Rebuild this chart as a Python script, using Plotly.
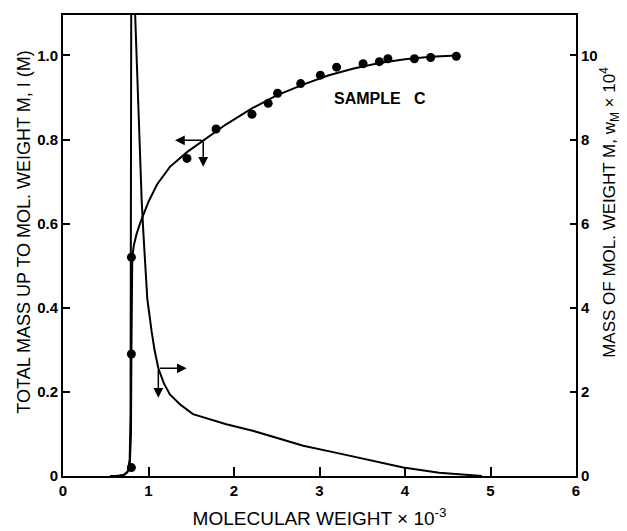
import plotly.graph_objects as go

# Cumulative mass I(M) (left axis) - smooth curve
cum_x = [0.55, 0.62, 0.70, 0.75, 0.78, 0.795, 0.80, 0.805, 0.81, 0.83, 0.86, 0.90, 0.95, 1.0, 1.1, 1.25, 1.45,
         1.65, 1.9, 2.2, 2.5, 2.8, 3.1, 3.4, 3.7, 4.0, 4.3, 4.6]
cum_y = [0.0, 0.0, 0.002, 0.008, 0.02, 0.1, 0.29, 0.45, 0.52, 0.55, 0.575, 0.60, 0.628, 0.652, 0.693, 0.735, 0.770,
         0.798, 0.835, 0.873, 0.905, 0.93, 0.952, 0.969, 0.982, 0.991, 0.997, 1.0]

# Measured points of I(M)
pts_x = [0.80, 0.80, 0.80, 1.45, 1.79, 2.21, 2.40, 2.51, 2.78, 3.01, 3.20, 3.51, 3.70, 3.80, 4.11, 4.30, 4.60]
pts_y = [0.02, 0.29, 0.52, 0.755, 0.825, 0.86, 0.886, 0.91, 0.933, 0.953, 0.972, 0.98, 0.985, 0.992,
         0.992, 0.995, 0.998]

# Mass distribution w_M x 10^4 (right axis)
wm_x = [0.55, 0.65, 0.72, 0.76, 0.78, 0.79, 0.80, 0.842, 0.92, 0.94, 0.986, 1.037, 1.07, 1.115, 1.18, 1.25, 1.37,
        1.52, 1.91, 2.23, 2.81, 3.2, 3.59, 3.98, 4.4, 4.76, 4.9]
wm_y = [0.0, 0.0, 0.03, 0.12, 0.4, 1.5, 13.5, 10.96, 6.56, 5.78, 4.21, 3.43, 3.0, 2.56, 2.2, 1.94, 1.70,
        1.47, 1.23, 1.07, 0.72, 0.55, 0.37, 0.20, 0.08, 0.02, 0.0]

x_ticks = [0, 1, 2, 3, 4, 5, 6]
y_ticks = [0, 0.2, 0.4, 0.6, 0.8, 1.0]
y_tick_text = ["0", "0.2", "0.4", "0.6", "0.8", "1.0"]
y2_ticks = [0, 2, 4, 6, 8, 10]

# arrow indicators: (head_x, head_y, tail_x, tail_y)
cum_arrows = [(1.31, 0.798, 1.64, 0.798), (1.64, 0.735, 1.64, 0.798)]
wm_arrows = [(1.447, 2.56, 1.115, 2.56), (1.115, 1.86, 1.115, 2.56)]

FONT = "Liberation Sans"

# page offset (body margin) is 8px; plot area in screen px: x 63..576, y 13..479
OFF = 8
W, H = 627 - OFF, 531 - OFF
L, T = 63 - OFF, 13 - OFF
PW, PH = 576 - 63, 479 - 13
R, B = W - L - PW, H - T - PH


def px_to_paper_x(sx):
    return (sx - 63) / PW


def py_to_paper_y(sy):
    return (479 - sy) / PH


fig = go.Figure()
fig.add_trace(go.Scatter(x=cum_x, y=cum_y, mode="lines", line=dict(color="black", width=2),
                         showlegend=False, hoverinfo="skip"))
fig.add_trace(go.Scatter(x=pts_x, y=pts_y, mode="markers", marker=dict(color="black", size=9),
                         showlegend=False, cliponaxis=False))
fig.add_trace(go.Scatter(x=wm_x, y=wm_y, mode="lines", line=dict(color="black", width=2),
                         yaxis="y2", showlegend=False, hoverinfo="skip"))

annotations = []
for hx, hy, tx, ty in cum_arrows:
    annotations.append(dict(x=hx, y=hy, ax=tx, ay=ty, xref="x", yref="y", axref="x", ayref="y",
                            text="", showarrow=True, arrowhead=2, arrowsize=1.3, arrowwidth=1.5,
                            arrowcolor="black"))
for hx, hy, tx, ty in wm_arrows:
    annotations.append(dict(x=hx, y=hy, ax=tx, ay=ty, xref="x", yref="y2", axref="x", ayref="y2",
                            text="", showarrow=True, arrowhead=2, arrowsize=1.3, arrowwidth=1.5,
                            arrowcolor="black"))
annotations.append(dict(x=3.71, y=0.898, xref="x", yref="y", text="SAMPLE&nbsp;&nbsp;&nbsp;C", showarrow=False,
                        font=dict(family=FONT, size=16, color="black", weight="bold")))
annotations.append(dict(x=px_to_paper_x(24), y=py_to_paper_y(233), xref="paper", yref="paper",
                        xanchor="center", yanchor="middle",
                        text="TOTAL MASS UP TO MOL. WEIGHT M, I (M)", textangle=-90, showarrow=False,
                        font=dict(family=FONT, size=18, color="black")))
annotations.append(dict(x=px_to_paper_x(610), y=py_to_paper_y(213), xref="paper", yref="paper",
                        xanchor="center", yanchor="middle",
                        text="MASS OF MOL. WEIGHT M, w<sub>M</sub> × 10<sup>4</sup>", textangle=-90,
                        showarrow=False, font=dict(family=FONT, size=17, color="black")))

tickfont = dict(family=FONT, size=15, color="black", weight="bold")

fig.update_layout(
    width=W, height=H,
    margin=dict(l=L, r=R, t=T, b=B, pad=0),
    paper_bgcolor="white", plot_bgcolor="white",
    font=dict(family=FONT, color="black"),
    annotations=annotations,
    xaxis=dict(range=[0, 6], tickvals=x_ticks, ticks="inside", ticklen=9, tickwidth=1.5,
               tickcolor="black", showline=True, linecolor="black", linewidth=2, mirror=True,
               showgrid=False, zeroline=False, tickfont=tickfont,
               title=dict(text="MOLECULAR WEIGHT × 10<sup>-3</sup>", standoff=14,
                          font=dict(family=FONT, size=19, color="black"))),
    yaxis=dict(range=[0, 1.096], tickvals=y_ticks, ticktext=y_tick_text, ticks="inside", ticklen=7,
               tickwidth=1.5, tickcolor="black", showline=True, linecolor="black", linewidth=2,
               showgrid=False, zeroline=False, tickfont=tickfont),
    yaxis2=dict(range=[0, 10.96], tickvals=y2_ticks, ticks="inside", ticklen=6, tickwidth=1.5,
                tickcolor="black", showline=True, linecolor="black", linewidth=2, overlaying="y",
                side="right", showgrid=False, zeroline=False, tickfont=tickfont),
)

fig.write_html("out.html")
